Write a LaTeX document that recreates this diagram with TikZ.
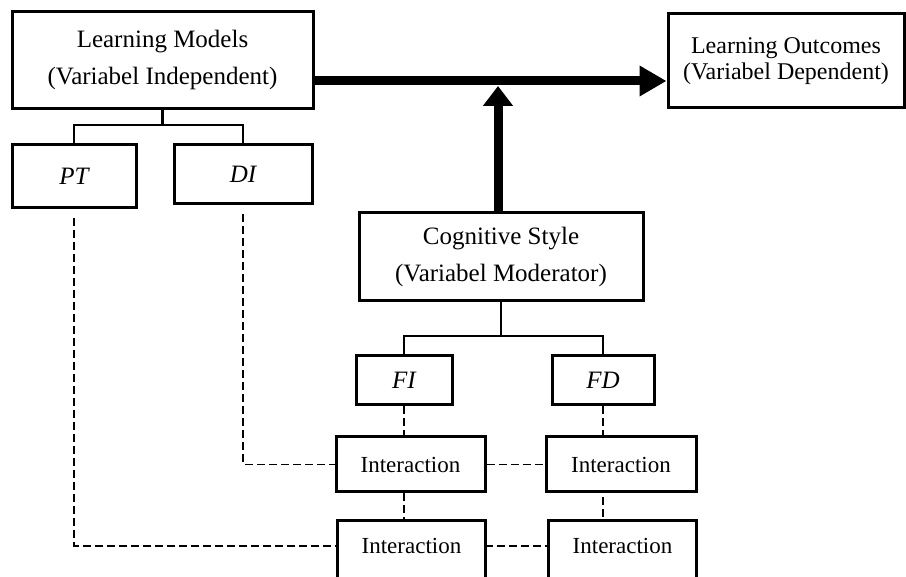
\documentclass[tikz,border=0pt]{standalone}
\usepackage{fontspec}
\setmainfont{Liberation Serif}
\usetikzlibrary{arrows.meta}
\begin{document}
\begin{tikzpicture}[x=1pt,y=-1pt,
  box/.style={draw, line width=3pt, rectangle, inner sep=0pt, align=center, font=\fontsize{25}{37}\selectfont},
  ibox/.style={box, font=\fontsize{23}{28}\selectfont},
  openbox/.style={rectangle, inner sep=0pt, align=center, font=\fontsize{23}{28}\selectfont},
  frame/.style={line width=3pt},
  tree/.style={line width=2.2pt},
  dashline/.style={line width=1.3pt, dash pattern=on 8pt off 4pt},
  bigarrow/.style={line width=9pt, -{Triangle[length=27pt,width=29pt]}},
  bigarrowv/.style={line width=9pt, -{Triangle[length=20pt,width=29pt]}}
]
\useasboundingbox (0,0) rectangle (906,577);

\node[box, minimum width=301pt, minimum height=97pt] (LM) at (162.5,60) {Learning Models\\(Variabel Independent)};
\node[box, minimum width=236pt, minimum height=94pt, font=\fontsize{24}{26}\selectfont] (LO) at (786,61) {Learning Outcomes\\(Variabel Dependent)};
\node[box, minimum width=124pt, minimum height=63pt] (PT) at (74,176.5) {\itshape PT};
\node[box, minimum width=138pt, minimum height=59pt] (DI) at (243,174.5) {\itshape DI};
\node[box, minimum width=284pt, minimum height=88pt] (CS) at (501,257) {Cognitive Style\\(Variabel Moderator)};
\node[box, minimum width=96pt, minimum height=49pt] (FI) at (404,380.5) {\itshape FI};
\node[box, minimum width=102pt, minimum height=49pt] (FD) at (603,380.5) {\itshape FD};
\node[ibox, minimum width=149pt, minimum height=55pt] (I1) at (410.5,464.5) {Interaction};
\node[ibox, minimum width=150pt, minimum height=55pt] (I2) at (621,464.5) {Interaction};
\node[openbox, minimum width=147pt, minimum height=50pt] (I3) at (411.5,546) {Interaction};
\node[openbox, minimum width=147pt, minimum height=50pt] (I4) at (622.5,546) {Interaction};
% bottom boxes run past the lower edge of the picture
\draw[frame] ([yshift=-20pt]I3.south west) -- (I3.north west) -- (I3.north east) -- ([yshift=-20pt]I3.south east);
\draw[frame] ([yshift=-20pt]I4.south west) -- (I4.north west) -- (I4.north east) -- ([yshift=-20pt]I4.south east);

% tree connectors
\coordinate (j1) at (162.5,125);
\draw[tree] (LM.south) -- (j1);
\draw[tree] (PT.north) |- (j1) -| (DI.north);
\coordinate (j2) at (501,336);
\draw[tree] (CS.south) -- (j2);
\draw[tree] (FI.north) |- (j2) -| (FD.north);

% thick arrows
\coordinate (hs) at (313,81);
\draw[bigarrow] (LM.east |- hs) -- (hs -| LO.west);
\coordinate (vt) at (498,86);
\draw[bigarrowv] (CS.north -| vt) -- (vt);

% dashed lines
\draw[dashline, shorten <=9pt] (PT.south) |- (I3.west);
\draw[dashline, shorten <=9pt] (DI.south) |- (I1.west);
\draw[dashline] (I1.east) -- (I2.west);
\draw[dashline] (I3.east) -- (I4.west);
\draw[dashline] (FI.south) -- (FI.south |- I1.north);
\draw[dashline] (FD.south) -- (FD.south |- I2.north);
\draw[dashline] (FI.south |- I1.south) -- (FI.south |- I3.north);
\draw[dashline, shorten <=4pt] (FD.south |- I2.south) -- (FD.south |- I4.north);
\end{tikzpicture}
\end{document}
